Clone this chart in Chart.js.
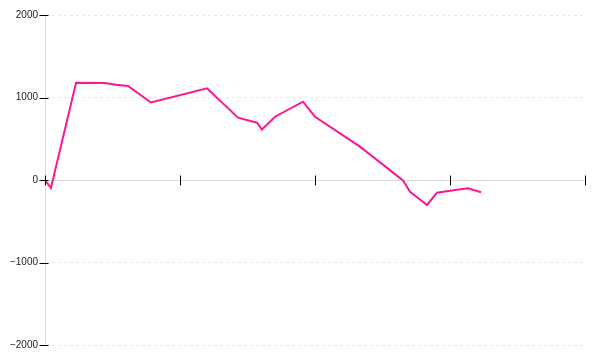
<!DOCTYPE html>
<html>
<head>
<meta charset="utf-8">
<script src="https://cdn.jsdelivr.net/npm/chart.js@4/dist/chart.umd.min.js"></script>
<style>
  html, body { margin: 0; padding: 0; background: #fff; }
  #wrap { width: 600px; height: 360px; }
</style>
</head>
<body>
<div id="wrap"><canvas id="chart" width="600" height="360"></canvas></div>
<script>
// Values
const xValues = [0, 0.44, 2.3, 4.44, 5.26, 6.15, 7.85, 12.0, 14.3, 15.7, 16.07, 17.04,
  19.11, 20.0, 23.33, 26.52, 27.04, 28.3, 29.04, 30.0, 31.33, 32.3];
const yValues = [0, -97, 1179, 1176, 1155, 1139, 939, 1112, 755, 695, 612, 767,
  949, 767, 404, -6, -142, -303, -154, -130, -101, -149];
const yTicks = [-2000, -1000, 0, 1000, 2000];
const xTicks = [0, 10, 20, 30, 40];

const points = xValues.map((x, i) => ({ x: x, y: yValues[i] }));

// Draw the small black tick marks that cross both axes
const crossTicks = {
  id: 'crossTicks',
  afterDraw: (chart) => {
    const { ctx, scales: { x, y } } = chart;
    const y0 = Math.round(y.getPixelForValue(0)) + 0.5;
    const x0 = Math.round(x.left) + 0.5;
    ctx.save();
    ctx.strokeStyle = '#000';
    ctx.lineWidth = 1;
    ctx.beginPath();
    yTicks.forEach(v => {
      const py = Math.round(y.getPixelForValue(v)) + 0.5;
      ctx.moveTo(x0 - 6, py);
      ctx.lineTo(x0 + 3, py);
    });
    xTicks.forEach(v => {
      const px = Math.round(x.getPixelForValue(v)) + 0.5;
      ctx.moveTo(px, y0 - 5);
      ctx.lineTo(px, y0 + 5);
    });
    ctx.stroke();
    ctx.restore();
  }
};

new Chart(document.getElementById('chart'), {
  type: 'line',
  data: {
    datasets: [{
      data: points,
      borderColor: '#ff1493',
      borderWidth: 2,
      pointRadius: 0,
      tension: 0,
      fill: false
    }]
  },
  options: {
    responsive: false,
    animation: false,
    layout: { padding: { top: 15, right: 15, bottom: 15, left: 0 } },
    plugins: { legend: { display: false }, tooltip: { enabled: false } },
    scales: {
      x: {
        type: 'linear',
        position: { y: 0 },
        min: 0,
        max: 40,
        ticks: { display: false, stepSize: 10 },
        grid: { display: false },
        border: { display: true, color: '#dddddd', width: 1 }
      },
      y: {
        type: 'linear',
        min: -2000,
        max: 2000,
        afterFit: (s) => { s.width = 45; },
        afterBuildTicks: (s) => { s.ticks = yTicks.map(v => ({ value: v })); },
        ticks: {
          padding: 1,
          color: '#222',
          font: { family: 'Liberation Sans', size: 10 },
          callback: (v) => (v < 0 ? '\u2212' : '') + Math.abs(v)
        },
        grid: {
          color: (c) => c.tick && c.tick.value === 0 ? 'rgba(0,0,0,0)' : '#e6e6e6',
          tickLength: 6,
          tickColor: 'rgba(0,0,0,0)'
        },
        border: { display: true, color: '#dddddd', width: 1, dash: [3, 3] }
      }
    }
  },
  plugins: [crossTicks]
});
</script>
</body>
</html>
